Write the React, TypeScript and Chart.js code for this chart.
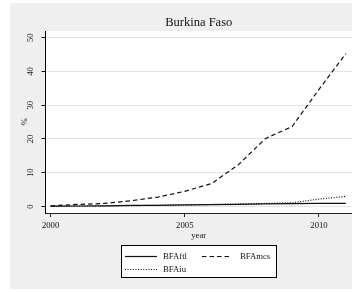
import { useEffect, useRef } from "react";
import { Chart, registerables } from "chart.js";

Chart.register(...registerables);

const chartTitle = "Burkina Faso";
const xAxisTitle = "year";
const yAxisTitle = "%";
const years = [2000, 2001, 2002, 2003, 2004, 2005, 2006, 2007, 2008, 2009, 2010, 2011];
const ftl = [0.1, 0.15, 0.2, 0.3, 0.35, 0.45, 0.55, 0.65, 0.75, 0.85, 0.9, 0.95];
const mcs = [0.2, 0.6, 0.9, 1.7, 2.8, 4.5, 6.8, 12.4, 20.1, 23.7, 34.7, 45.3];
const iu = [0.0, 0.1, 0.15, 0.25, 0.35, 0.45, 0.6, 0.75, 0.9, 1.1, 2.2, 3.0];
const seriesNames = ["BFAftl", "BFAmcs", "BFAiu"];
const xTicks = [2000, 2005, 2010];
const yTicks = [0, 10, 20, 30, 40, 50];

const FONT = '"Liberation Serif", "Times New Roman", serif';
const TXT = "#111";
const dashes: number[][] = [[], [4.5, 3], [1, 1.6]];

const frame = {
  id: "frame",
  beforeDraw(chart: any) {
    const { ctx, chartArea: a } = chart;
    ctx.save();
    ctx.fillStyle = "#ffffff";
    ctx.fillRect(0, 0, chart.width, chart.height);
    ctx.fillStyle = "#efefef";
    ctx.fillRect(10, 3, 342, 286);
    ctx.fillStyle = "#ffffff";
    ctx.fillRect(a.left, a.top, a.right - a.left, a.bottom - a.top);
    ctx.restore();
  },
  afterDraw(chart: any) {
    const { ctx, chartArea: a } = chart;
    const y = chart.scales.y;
    ctx.save();
    ctx.fillStyle = TXT;
    // title
    ctx.font = `12.5px ${FONT}`;
    ctx.textAlign = "center";
    ctx.textBaseline = "middle";
    ctx.fillText(chartTitle, (a.left + a.right) / 2, 23);
    // y tick labels (rotated)
    ctx.font = `8.7px ${FONT}`;
    for (const v of yTicks) {
      const py = y.getPixelForValue(v);
      ctx.save();
      ctx.translate(30.5, py);
      ctx.rotate(-Math.PI / 2);
      ctx.textAlign = "center";
      ctx.textBaseline = "middle";
      ctx.fillText(String(v), 0, 0);
      ctx.restore();
    }
    // y title
    ctx.save();
    ctx.translate(24.5, (a.top + a.bottom) / 2);
    ctx.rotate(-Math.PI / 2);
    ctx.textAlign = "center";
    ctx.textBaseline = "middle";
    ctx.fillText(yAxisTitle, 0, 0);
    ctx.restore();
    // x title
    ctx.textAlign = "center";
    ctx.textBaseline = "middle";
    ctx.fillText(xAxisTitle, (a.left + a.right) / 2, 236);
    // legend
    ctx.fillStyle = "#ffffff";
    ctx.fillRect(121.5, 245.5, 155, 32);
    ctx.strokeStyle = "#000";
    ctx.lineWidth = 1;
    ctx.strokeRect(121.5, 245.5, 155, 32);
    const items = [
      { x: 125, y: 256.5 },
      { x: 202, y: 256.5 },
      { x: 125, y: 269.5 },
    ];
    items.forEach((it, i) => {
      ctx.beginPath();
      ctx.setLineDash(dashes[i]);
      ctx.lineWidth = 1.2;
      ctx.strokeStyle = "#111";
      ctx.moveTo(it.x, it.y);
      ctx.lineTo(it.x + (i === 1 ? 30 : 32), it.y);
      ctx.stroke();
      ctx.setLineDash([]);
      ctx.fillStyle = TXT;
      ctx.textAlign = "left";
      ctx.textBaseline = "middle";
      ctx.fillText(seriesNames[i], it.x + (i === 1 ? 38 : 38), it.y);
    });
    ctx.restore();
  },
};

export default function App() {
  const ref = useRef<HTMLCanvasElement>(null);
  useEffect(() => {
    document.body.style.margin = "0";
    const series = [ftl, mcs, iu];
    const chart = new Chart(ref.current!, {
      type: "line",
      data: {
        datasets: series.map((s, i) => ({
          label: seriesNames[i],
          data: years.map((yr, j) => ({ x: yr, y: s[j] })),
          borderColor: "#111",
          borderWidth: 1.2,
          borderDash: dashes[i],
          pointRadius: 0,
          tension: 0,
          fill: false,
        })),
      },
      options: {
        animation: false,
        responsive: false,
        devicePixelRatio: 1,
        layout: { padding: { top: 31, left: 0, right: 0, bottom: 0 } },
        plugins: { legend: { display: false }, title: { display: false }, tooltip: { enabled: false } },
        scales: {
          x: {
            type: "linear",
            min: 1999.81,
            max: 2011.23,
            afterBuildTicks: (s: any) => {
              s.ticks = xTicks.map((v) => ({ value: v }));
            },
            afterFit: (s: any) => {
              s.height = 79;
            },
            border: { color: "#222", width: 1 },
            grid: { drawOnChartArea: false, drawTicks: true, tickLength: 4, tickColor: "#222" },
            ticks: {
              autoSkip: false,
              maxRotation: 0,
              padding: 3,
              color: TXT,
              font: { family: FONT, size: 8.7 },
              callback: (v: any) => String(v),
            },
          },
          y: {
            type: "linear",
            min: -1.93,
            max: 52,
            afterBuildTicks: (s: any) => {
              s.ticks = yTicks.map((v) => ({ value: v }));
            },
            afterFit: (s: any) => {
              s.width = 45.5;
            },
            border: { color: "#000", width: 1 },
            grid: { color: "#e4e4e4", lineWidth: 1, drawTicks: true, tickLength: 4, tickColor: "#000" },
            ticks: { display: false },
          },
        },
      },
      plugins: [frame],
    } as any);
    return () => chart.destroy();
  }, []);
  return (
    <div style={{ width: 352, height: 292 }}>
      <canvas ref={ref} width={352} height={292} style={{ display: "block" }} />
    </div>
  );
}
